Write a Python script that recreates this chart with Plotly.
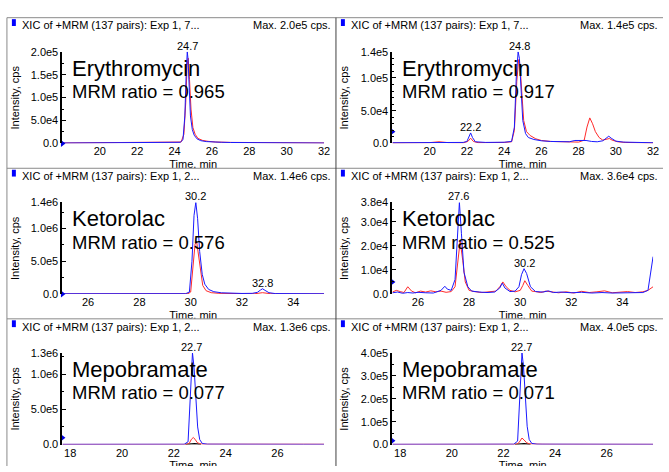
import plotly.graph_objects as go

W, H = 669, 472
FONT = "Liberation Sans, Arial, sans-serif"

# ---------------- data ----------------
compounds = ["Erythromycin", "Erythromycin", "Ketorolac", "Ketorolac", "Mepobramate", "Mepobramate"]
ratios = ["0.965", "0.917", "0.576", "0.525", "0.077", "0.071"]
headers = ["XIC of +MRM (137 pairs): Exp 1, 7...", "XIC of +MRM (137 pairs): Exp 1, 7...",
           "XIC of +MRM (137 pairs): Exp 1, 2...", "XIC of +MRM (137 pairs): Exp 1, 2...",
           "XIC of +MRM (137 pairs): Exp 1, 2...", "XIC of +MRM (137 pairs): Exp 1, 2..."]
max_labels = ["Max. 2.0e5 cps.", "Max. 1.4e5 cps.", "Max. 1.4e6 cps.",
              "Max. 3.6e4 cps.", "Max. 1.3e6 cps.", "Max. 4.0e5 cps."]
x_ranges = [(18, 32), (18, 32), (25, 35.2), (25, 35.2), (17.7, 27.8), (17.7, 27.8)]
x_ticks = [[20, 22, 24, 26, 28, 30, 32], [20, 22, 24, 26, 28, 30, 32],
           [26, 28, 30, 32, 34], [26, 28, 30, 32, 34],
           [18, 20, 22, 24, 26], [18, 20, 22, 24, 26]]
y_max = [2.0e5, 1.4e5, 1.4e6, 3.8e4, 1.3e6, 4.0e5]
y_ticks = [[0, 5e4, 1e5, 1.5e5, 2e5], [0, 5e4, 1e5, 1.4e5], [0, 5e5, 1e6, 1.4e6],
           [0, 1e4, 2e4, 3e4, 3.8e4], [0, 5e5, 1e6, 1.3e6], [0, 1e5, 2e5, 3e5, 4e5]]
y_ticktext = [["0.0", "5.0e4", "1.0e5", "1.5e5", "2.0e5"], ["0.0", "5.0e4", "1.0e5", "1.4e5"],
              ["0.0", "5.0e5", "1.0e6", "1.4e6"], ["0.0", "1.0e4", "2.0e4", "3.0e4", "3.8e4"],
              ["0.0", "5.0e5", "1.0e6", "1.3e6"], ["0.0", "1.0e5", "2.0e5", "3.0e5", "4.0e5"]]
y_minor = [2.5e4, 1e4, 2.5e5, 5e3, 2.5e5, 5e4]
marker_levels = [0, 1.8e4, 0, 5e3, 9.7e4, 1.7e4]
# peak labels: (time, intensity, text)
peak_labels = [[(24.7, 2.0e5, "24.7")],
               [(24.8, 1.4e5, "24.8"), (22.2, 1.6e4, "22.2")],
               [(30.2, 1.4e6, "30.2"), (32.8, 8.0e4, "32.8")],
               [(27.6, 3.8e4, "27.6"), (30.15, 1.05e4, "30.2")],
               [(22.7, 1.3e6, "22.7")],
               [(22.7, 4.0e5, "22.7")]]

# panel 1 : Erythromycin (left)
p1_blue_t = [18.0, 19.0, 20.0, 20.6, 21.0, 22.0, 23.0, 23.5, 24.0, 24.3, 24.45, 24.55, 24.62, 24.68, 24.72,
             24.78, 24.85, 24.95, 25.05, 25.2, 25.4, 25.7, 26.0, 26.5, 27.0, 28.0, 29.0, 30.0, 31.0, 32.0]
p1_blue_y = [800, 900, 1200, 1500, 800, 1000, 1300, 2000, 1500, 2500, 8000, 60000, 150000, 200000, 185000,
             120000, 60000, 30000, 18000, 10000, 6000, 4000, 3000, 2500, 2000, 1500, 1200, 1000, 900, 800]
p1_red_t = [18.0, 19.5, 20.5, 21.5, 22.5, 23.5, 24.0, 24.35, 24.5, 24.6, 24.67, 24.73, 24.8, 24.88, 24.98,
            25.1, 25.25, 25.5, 25.8, 26.2, 27.0, 28.0, 29.0, 30.0, 31.0, 32.0]
p1_red_y = [1000, 1200, 1500, 1000, 1200, 1500, 1800, 3000, 20000, 90000, 170000, 186000, 140000, 75000,
            35000, 20000, 11000, 6500, 4500, 3000, 2200, 1800, 1500, 1300, 1100, 1000]

# panel 2 : Erythromycin (right)
p2_blue_t = [18.0, 19.0, 20.0, 21.0, 21.8, 22.0, 22.1, 22.2, 22.3, 22.45, 23.0, 23.5, 24.0, 24.4, 24.55,
             24.65, 24.75, 24.82, 24.9, 25.0, 25.15, 25.3, 25.6, 26.0, 26.5, 27.0, 27.5, 27.8, 28.1, 28.4,
             28.7, 29.0, 29.3, 29.5, 29.62, 29.75, 30.0, 30.4, 31.0, 31.5, 32.0]
p2_blue_y = [1000, 1200, 1500, 1200, 1500, 3000, 10000, 16000, 9000, 2500, 1500, 1500, 1800, 3000, 25000,
             100000, 140000, 130000, 80000, 35000, 15000, 9000, 6000, 4000, 3000, 2500, 2500, 4500, 5000,
             4500, 3000, 2500, 4000, 8000, 11000, 8000, 3500, 2000, 1500, 1200, 1000]
p2_red_t = [18.0, 19.0, 20.0, 20.5, 21.0, 21.8, 22.05, 22.2, 22.35, 22.6, 23.5, 24.0, 24.4, 24.55, 24.68,
            24.78, 24.85, 24.95, 25.05, 25.2, 25.4, 25.7, 26.0, 26.5, 27.0, 27.5, 28.0, 28.3, 28.45, 28.6,
            28.75, 28.9, 29.1, 29.3, 29.5, 29.65, 29.8, 30.1, 30.5, 31.0, 32.0]
p2_red_y = [800, 1000, 1200, 2500, 1200, 1000, 3000, 8000, 3000, 1200, 1200, 1500, 2500, 20000, 95000,
            128000, 120000, 70000, 35000, 18000, 12000, 7000, 4500, 3000, 2500, 2000, 2000, 5000, 25000,
            39000, 30000, 18000, 9000, 5000, 6000, 7500, 5000, 2500, 1500, 1200, 800]

# panel 3 : Ketorolac (left)
p3_blue_t = [25.0, 26.0, 27.0, 28.0, 29.0, 29.8, 29.95, 30.05, 30.13, 30.2, 30.27, 30.35, 30.45, 30.55,
             30.7, 30.9, 31.2, 31.6, 32.0, 32.4, 32.6, 32.72, 32.8, 32.9, 33.05, 33.3, 34.0, 35.2]
p3_blue_y = [3000, 3000, 2500, 3000, 3000, 4000, 30000, 500000, 1200000, 1400000, 1150000, 650000, 300000,
             150000, 70000, 35000, 18000, 10000, 8000, 10000, 25000, 60000, 80000, 55000, 20000, 6000,
             3000, 3000]
p3_red_t = [25.0, 26.5, 28.0, 29.5, 29.9, 30.0, 30.1, 30.17, 30.23, 30.3, 30.38, 30.47, 30.6, 30.8, 31.1,
            31.5, 32.5, 32.8, 33.1, 34.0, 35.2]
p3_red_y = [2000, 2000, 2000, 2500, 4000, 30000, 450000, 760000, 806000, 620000, 330000, 130000, 50000,
            20000, 10000, 5000, 4000, 20000, 5000, 2000, 2000]

# panel 4 : Ketorolac (right)
p4_blue_t = [25.0, 25.2, 25.4, 25.6, 25.8, 26.0, 26.3, 26.6, 26.9, 27.05, 27.15, 27.3, 27.45, 27.55, 27.62,
             27.7, 27.8, 27.95, 28.1, 28.4, 28.7, 29.0, 29.2, 29.3, 29.4, 29.6, 29.8, 29.95, 30.05, 30.15,
             30.25, 30.4, 30.6, 30.9, 31.1, 31.3, 31.6, 32.0, 32.4, 32.8, 33.2, 33.6, 34.0, 34.4, 34.8,
             35.0, 35.1, 35.2]
p4_blue_y = [500, 800, 300, 600, 400, 700, 500, 400, 1500, 3200, 2000, 1500, 6000, 25000, 38000, 25000,
             9000, 3000, 1200, 800, 600, 800, 2500, 4500, 2500, 1000, 1200, 3000, 8000, 10500, 8500, 3000,
             1000, 800, 1300, 600, 800, 500, 700, 400, 600, 400, 500, 300, 600, 1500, 8000, 15500]
p4_red_t = [25.0, 25.15, 25.3, 25.45, 25.6, 25.75, 25.9, 26.1, 26.3, 26.5, 26.7, 26.9, 27.1, 27.3, 27.45,
            27.55, 27.65, 27.75, 27.85, 28.0, 28.2, 28.5, 28.8, 29.05, 29.2, 29.32, 29.45, 29.6, 29.8, 30.0,
            30.1, 30.18, 30.3, 30.45, 30.6, 30.8, 31.0, 31.2, 31.5, 31.8, 32.1, 32.4, 32.7, 33.0, 33.3,
            33.6, 33.9, 34.2, 34.5, 34.8, 35.0, 35.2]
p4_red_y = [800, 1500, 1000, 600, 3000, 1200, 500, 1200, 800, 1300, 900, 1200, 700, 1000, 3000, 12000,
            22000, 14000, 5000, 1500, 1000, 600, 900, 1200, 3000, 5000, 3000, 1500, 900, 1500, 3500, 5500,
            3500, 1200, 1000, 600, 1200, 800, 500, 900, 400, 1100, 600, 900, 1300, 500, 800, 1000, 600,
            900, 1500, 3000]

# panel 5 : Mepobramate (left)
p5_blue_t = [17.7, 19.0, 20.0, 21.0, 22.0, 22.4, 22.55, 22.62, 22.68, 22.72, 22.78, 22.85, 22.92, 23.0,
             23.1, 23.3, 24.0, 25.0, 26.0, 27.0, 27.8]
p5_blue_y = [3000, 3000, 3000, 3000, 3000, 4000, 40000, 600000, 1200000, 1300000, 1100000, 650000, 250000,
             70000, 15000, 5000, 3000, 3000, 3000, 3000, 3000]
p5_red_t = [17.7, 19.0, 20.5, 22.0, 22.5, 22.6, 22.68, 22.75, 22.82, 22.9, 23.0, 23.2, 23.6, 24.0, 24.5,
            25.0, 25.5, 26.0, 27.0, 27.8]
p5_red_y = [2000, 2500, 2000, 2500, 3000, 20000, 75000, 100000, 75000, 30000, 10000, 5000, 6000, 4500,
            6000, 5000, 6000, 4000, 4500, 4000]
p5_black_t = [22.45, 22.6, 22.7, 22.8, 22.9, 23.05]
p5_black_y = [0, 9000, 13000, 11000, 7000, 0]

# panel 6 : Mepobramate (right)
p6_blue_t = [17.7, 19.0, 20.0, 21.0, 22.0, 22.4, 22.55, 22.62, 22.68, 22.72, 22.78, 22.85, 22.92, 23.0,
             23.1, 23.3, 24.0, 25.0, 26.0, 27.0, 27.8]
p6_blue_y = [1000, 1000, 1000, 1000, 1000, 1500, 15000, 180000, 370000, 400000, 340000, 200000, 80000,
             22000, 5000, 1500, 1000, 1000, 1000, 1000, 1000]
p6_red_t = [17.7, 19.0, 20.5, 22.0, 22.5, 22.6, 22.66, 22.72, 22.8, 22.9, 23.0, 23.1, 23.2, 23.3, 23.5,
            24.0, 25.0, 26.0, 27.0, 27.8]
p6_red_y = [800, 1000, 1500, 1000, 1200, 8000, 22000, 28500, 20000, 8000, 3000, 3000, 4500, 2500, 1500,
            1200, 1000, 1200, 1000, 900]
p6_black_t = [22.45, 22.6, 22.7, 22.8, 22.9, 23.05]
p6_black_y = [0, 3000, 4500, 4000, 2500, 0]

blue_series = [(p1_blue_t, p1_blue_y), (p2_blue_t, p2_blue_y), (p3_blue_t, p3_blue_y),
               (p4_blue_t, p4_blue_y), (p5_blue_t, p5_blue_y), (p6_blue_t, p6_blue_y)]
red_series = [(p1_red_t, p1_red_y), (p2_red_t, p2_red_y), (p3_red_t, p3_red_y),
              (p4_red_t, p4_red_y), (p5_red_t, p5_red_y), (p6_red_t, p6_red_y)]
black_series = [None, None, None, None, (p5_black_t, p5_black_y), (p6_black_t, p6_black_y)]

# ---------------- layout geometry (pixels) ----------------
ROW_PITCH = 154.5
COL_AXIS_X = [63, 396]
COL_AXIS_X1 = [327, 659]
COL_BORDER = [7, 339]
COL_RIGHT = [339, 669]
TOP_BORDER = 12


def px(x):
    return x / W


def py(y):
    return 1 - y / H


fig = go.Figure()
layout = dict(
    width=W, height=H, margin=dict(l=0, r=0, t=0, b=0),
    paper_bgcolor="white", plot_bgcolor="rgba(0,0,0,0)",
    showlegend=False, font=dict(family=FONT, size=11, color="black"),
)
shapes = []
annotations = []

BLUE = "#1a1aff"
RED = "#ff2a2a"

for i in range(6):
    r, c = divmod(i, 2)
    off = ROW_PITCH * r
    top_px = 47 + off
    bot_px = 141 + off
    border_top = TOP_BORDER + off
    border_bot = TOP_BORDER + off + ROW_PITCH
    n = i + 1
    xa = "x" if n == 1 else f"x{n}"
    ya = "y" if n == 1 else f"y{n}"
    xmin, xmax = x_ranges[i]
    layout[f"xaxis{'' if n == 1 else n}"] = dict(
        domain=[px(COL_AXIS_X[c]), px(COL_AXIS_X1[c])], range=[xmin, xmax], anchor=ya,
        showgrid=False, zeroline=False, showline=False, ticks="",
        tickmode="array", tickvals=x_ticks[i], tickfont=dict(size=11),
    )
    layout[f"yaxis{'' if n == 1 else n}"] = dict(
        domain=[py(bot_px), py(top_px)], range=[0, y_max[i]], anchor=xa,
        showgrid=False, zeroline=False, showline=True, linecolor="black", linewidth=2,
        ticks="inside", ticklen=4, tickcolor="black", tickwidth=1,
        tickmode="array", tickvals=y_ticks[i], ticktext=y_ticktext[i], tickfont=dict(size=11),
        minor=dict(ticks="inside", ticklen=2, tickcolor="black", dtick=y_minor[i], tick0=0),
    )

    if black_series[i] is not None:
        bt, by = black_series[i]
        fig.add_trace(go.Scatter(x=bt, y=by, xaxis=xa, yaxis=ya, mode="lines",
                                 line=dict(color="black", width=1.5), hoverinfo="skip"))
    rt, ry = red_series[i]
    fig.add_trace(go.Scatter(x=rt, y=ry, xaxis=xa, yaxis=ya, mode="lines",
                             line=dict(color=RED, width=1), hoverinfo="skip"))
    bt, by = blue_series[i]
    fig.add_trace(go.Scatter(x=bt, y=by, xaxis=xa, yaxis=ya, mode="lines",
                             line=dict(color=BLUE, width=1), hoverinfo="skip"))
    # blue level marker on the y axis
    fig.add_trace(go.Scatter(x=[xmin], y=[marker_levels[i]], xaxis=xa, yaxis=ya, mode="markers",
                             marker=dict(symbol="triangle-right", size=6, color="#0000e0"),
                             cliponaxis=False, hoverinfo="skip"))

    # clipped "Time, min" title in an overlay subplot spanning the strip below the axis
    k = 7 + i
    layout[f"xaxis{k}"] = dict(domain=[px(COL_BORDER[c] + 1), px(COL_RIGHT[c] - 1)],
                               range=[COL_BORDER[c] + 1, COL_RIGHT[c] - 1], visible=False,
                               anchor=f"y{k}", fixedrange=True)
    clip_bot = min(border_bot, H)
    layout[f"yaxis{k}"] = dict(domain=[py(clip_bot), py(bot_px)], range=[clip_bot, bot_px],
                               visible=False, anchor=f"x{k}", fixedrange=True)
    fig.add_trace(go.Scatter(x=[(COL_AXIS_X[c] + COL_AXIS_X1[c]) / 2], y=[163.5 + off],
                             xaxis=f"x{k}", yaxis=f"y{k}", mode="text", text=["Time, min"],
                             textfont=dict(size=11, family=FONT, color="black"),
                             cliponaxis=True, hoverinfo="skip"))

    # header
    shapes.append(dict(type="rect", xref="paper", yref="paper",
                       x0=px(COL_BORDER[c] + 5), x1=px(COL_BORDER[c] + 9),
                       y0=py(border_top + 8.5), y1=py(border_top + 1.5),
                       fillcolor="#0000ff", line=dict(width=0)))
    annotations.append(dict(xref="paper", yref="paper", x=px(COL_BORDER[c] + 13), y=py(border_top + 8),
                            text=headers[i], showarrow=False, xanchor="left", yanchor="middle",
                            font=dict(size=11)))
    annotations.append(dict(xref="paper", yref="paper", x=px(COL_RIGHT[c] - 3), y=py(border_top + 8),
                            text=max_labels[i], showarrow=False, xanchor="right", yanchor="middle",
                            font=dict(size=11)))
    # y title
    annotations.append(dict(xref="paper", yref="paper", x=px(COL_BORDER[c] + 8), y=py(94 + off),
                            text="Intensity, cps", showarrow=False, textangle=-90,
                            xanchor="center", yanchor="middle", font=dict(size=11)))
    # compound name and ratio
    annotations.append(dict(xref="paper", yref="paper", x=px(COL_AXIS_X[c] + 8), y=py(64 + off),
                            text=compounds[i], showarrow=False, xanchor="left", yanchor="middle",
                            font=dict(size=22)))
    annotations.append(dict(xref="paper", yref="paper", x=px(COL_AXIS_X[c] + 8), y=py(88 + off),
                            text="MRM ratio = " + ratios[i], showarrow=False, xanchor="left",
                            yanchor="middle", font=dict(size=18.5)))
    # peak labels
    for (pt, pv, ptxt) in peak_labels[i]:
        annotations.append(dict(xref=xa, yref=ya, x=pt, y=pv, text=ptxt, showarrow=False,
                                xanchor="center", yanchor="middle", yshift=6, font=dict(size=11)))

# panel borders
GRAY = "#8a8a8a"
for rr in range(3):
    yb = TOP_BORDER + ROW_PITCH * rr
    shapes.append(dict(type="line", xref="paper", yref="paper", x0=px(7), x1=1, y0=py(yb), y1=py(yb),
                       line=dict(color=GRAY, width=1)))
shapes.append(dict(type="line", xref="paper", yref="paper", x0=px(7), x1=px(7), y0=py(TOP_BORDER), y1=0,
                   line=dict(color=GRAY, width=1)))
shapes.append(dict(type="line", xref="paper", yref="paper", x0=px(339), x1=px(339), y0=py(TOP_BORDER),
                   y1=0, line=dict(color="#404040", width=1)))

layout["shapes"] = shapes
layout["annotations"] = annotations
fig.update_layout(**layout)
fig.write_html("out.html", config={"displayModeBar": False, "staticPlot": True},
               post_script="document.body.style.margin='0';document.body.style.padding='0';"
                           "document.body.style.overflow='hidden';")
